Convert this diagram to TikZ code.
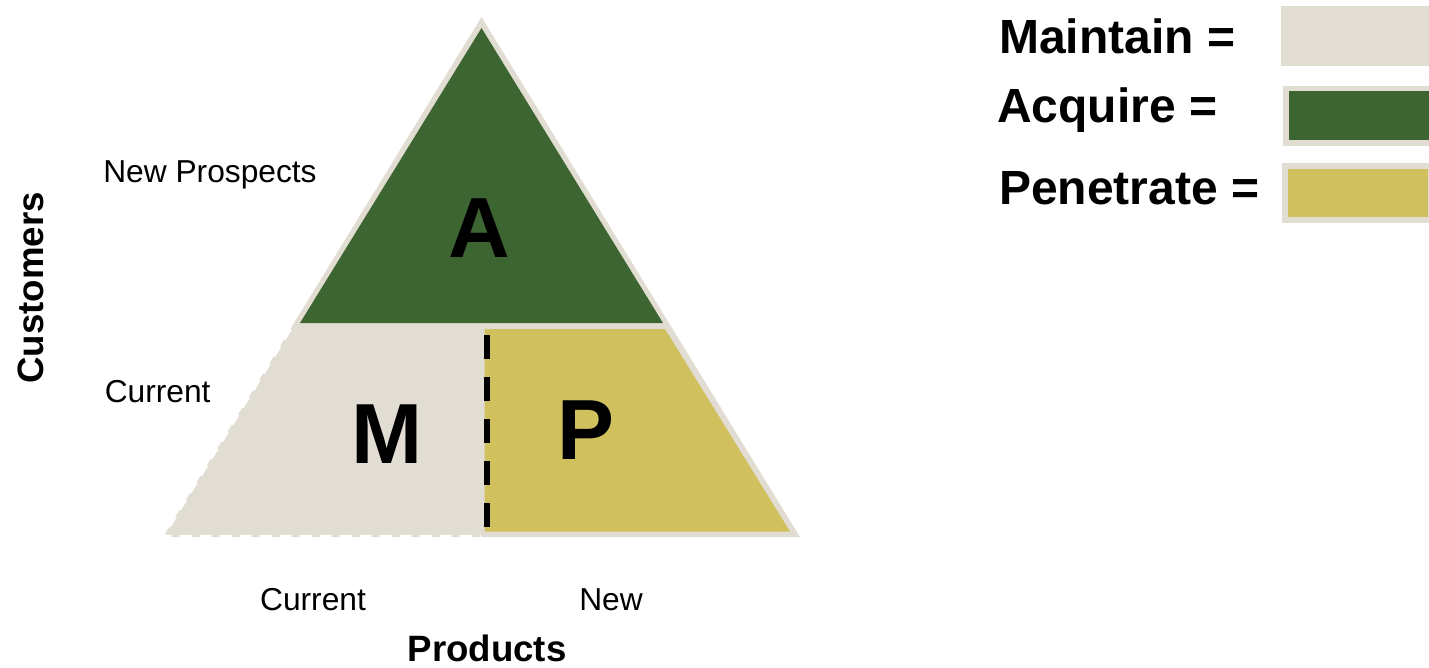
\documentclass[tikz,border=0pt]{standalone}
\usepackage{fontspec}
\setmainfont{Liberation Sans}
\definecolor{beige}{HTML}{E2DDD2}
\definecolor{leafgreen}{HTML}{3D6532}
\definecolor{mustard}{HTML}{D0C05E}
\begin{document}
\begin{tikzpicture}[x=0.75pt,y=-0.75pt,
  lbl/.style={inner sep=0pt,font=\fontsize{23.8pt}{26pt}\selectfont},
  axis/.style={inner sep=0pt,font=\fontsize{27.5pt}{30pt}\selectfont\bfseries},
  big/.style={inner sep=0pt,font=\fontsize{64pt}{70pt}\selectfont\bfseries},
  legend/.style={inner sep=0pt,font=\fontsize{36pt}{40pt}\selectfont\bfseries},
  mdash/.style={draw=white,line width=2.4pt,dash pattern=on 9pt off 6pt},
  split/.style={draw=black,line width=4.5pt,dash pattern=on 18pt off 13.5pt}]
\useasboundingbox (0,0) rectangle (1429,668);
\clip (0,0) rectangle (1429,668);

% outer beige triangle
\fill[beige] (481.5,17) -- (800,537) -- (163,537) -- cycle;
% acquire region
\fill[leafgreen] (481.5,28) -- (663,323) -- (300,323) -- cycle;
% penetrate region
\fill[mustard] (484.5,329) -- (665,329) -- (790,531.5) -- (484.5,531.5) -- cycle;
% dashed outline of the maintain region
\coordinate (mtop) at (290.4,329);
\coordinate (mleft) at (163,536.5);
\coordinate (mright) at (481,536.5);
\draw[mdash] (mtop) -- (mleft) -- (mright);
% divider between maintain and penetrate
\coordinate (dtop) at (487,335);
\coordinate (dbot) at (487,527);
\draw[split] (dtop) -- (dbot);

% region letters
\node[big,anchor=base] (la) at (479,257) {A};
\node[big,anchor=base] (lm) at (387.5,463) {M};
\node[big,anchor=base] (lp) at (586,459) {P};

% axis labels
\node[lbl,anchor=base west] (np) at (103,182) {New Prospects};
\node[lbl,anchor=base west] (cc) at (104.5,402) {Current};
\node[lbl,anchor=base] (cp) at (313,610) {Current};
\node[lbl,anchor=base] (npr) at (611,610) {New};
\node[axis,anchor=base] (prod) at (487,661) {Products};
\node[axis,anchor=base,rotate=90] (cust) at (43,288) {Customers};

% legend
\node[legend,anchor=base west] (lgm) at (999,53) {Maintain =};
\node[legend,anchor=base west] (lga) at (997,122) {Acquire =};
\node[legend,anchor=base west] (lgp) at (999,204) {Penetrate =};
\fill[beige] (1281,6) rectangle (1440,66);
\fill[beige] (1283,86) rectangle (1440,146);
\fill[leafgreen] (1289,91) rectangle (1440,140);
\fill[beige] (1282,163) rectangle (1440,223);
\fill[mustard] (1288,169) rectangle (1428,217);
\end{tikzpicture}
\end{document}
